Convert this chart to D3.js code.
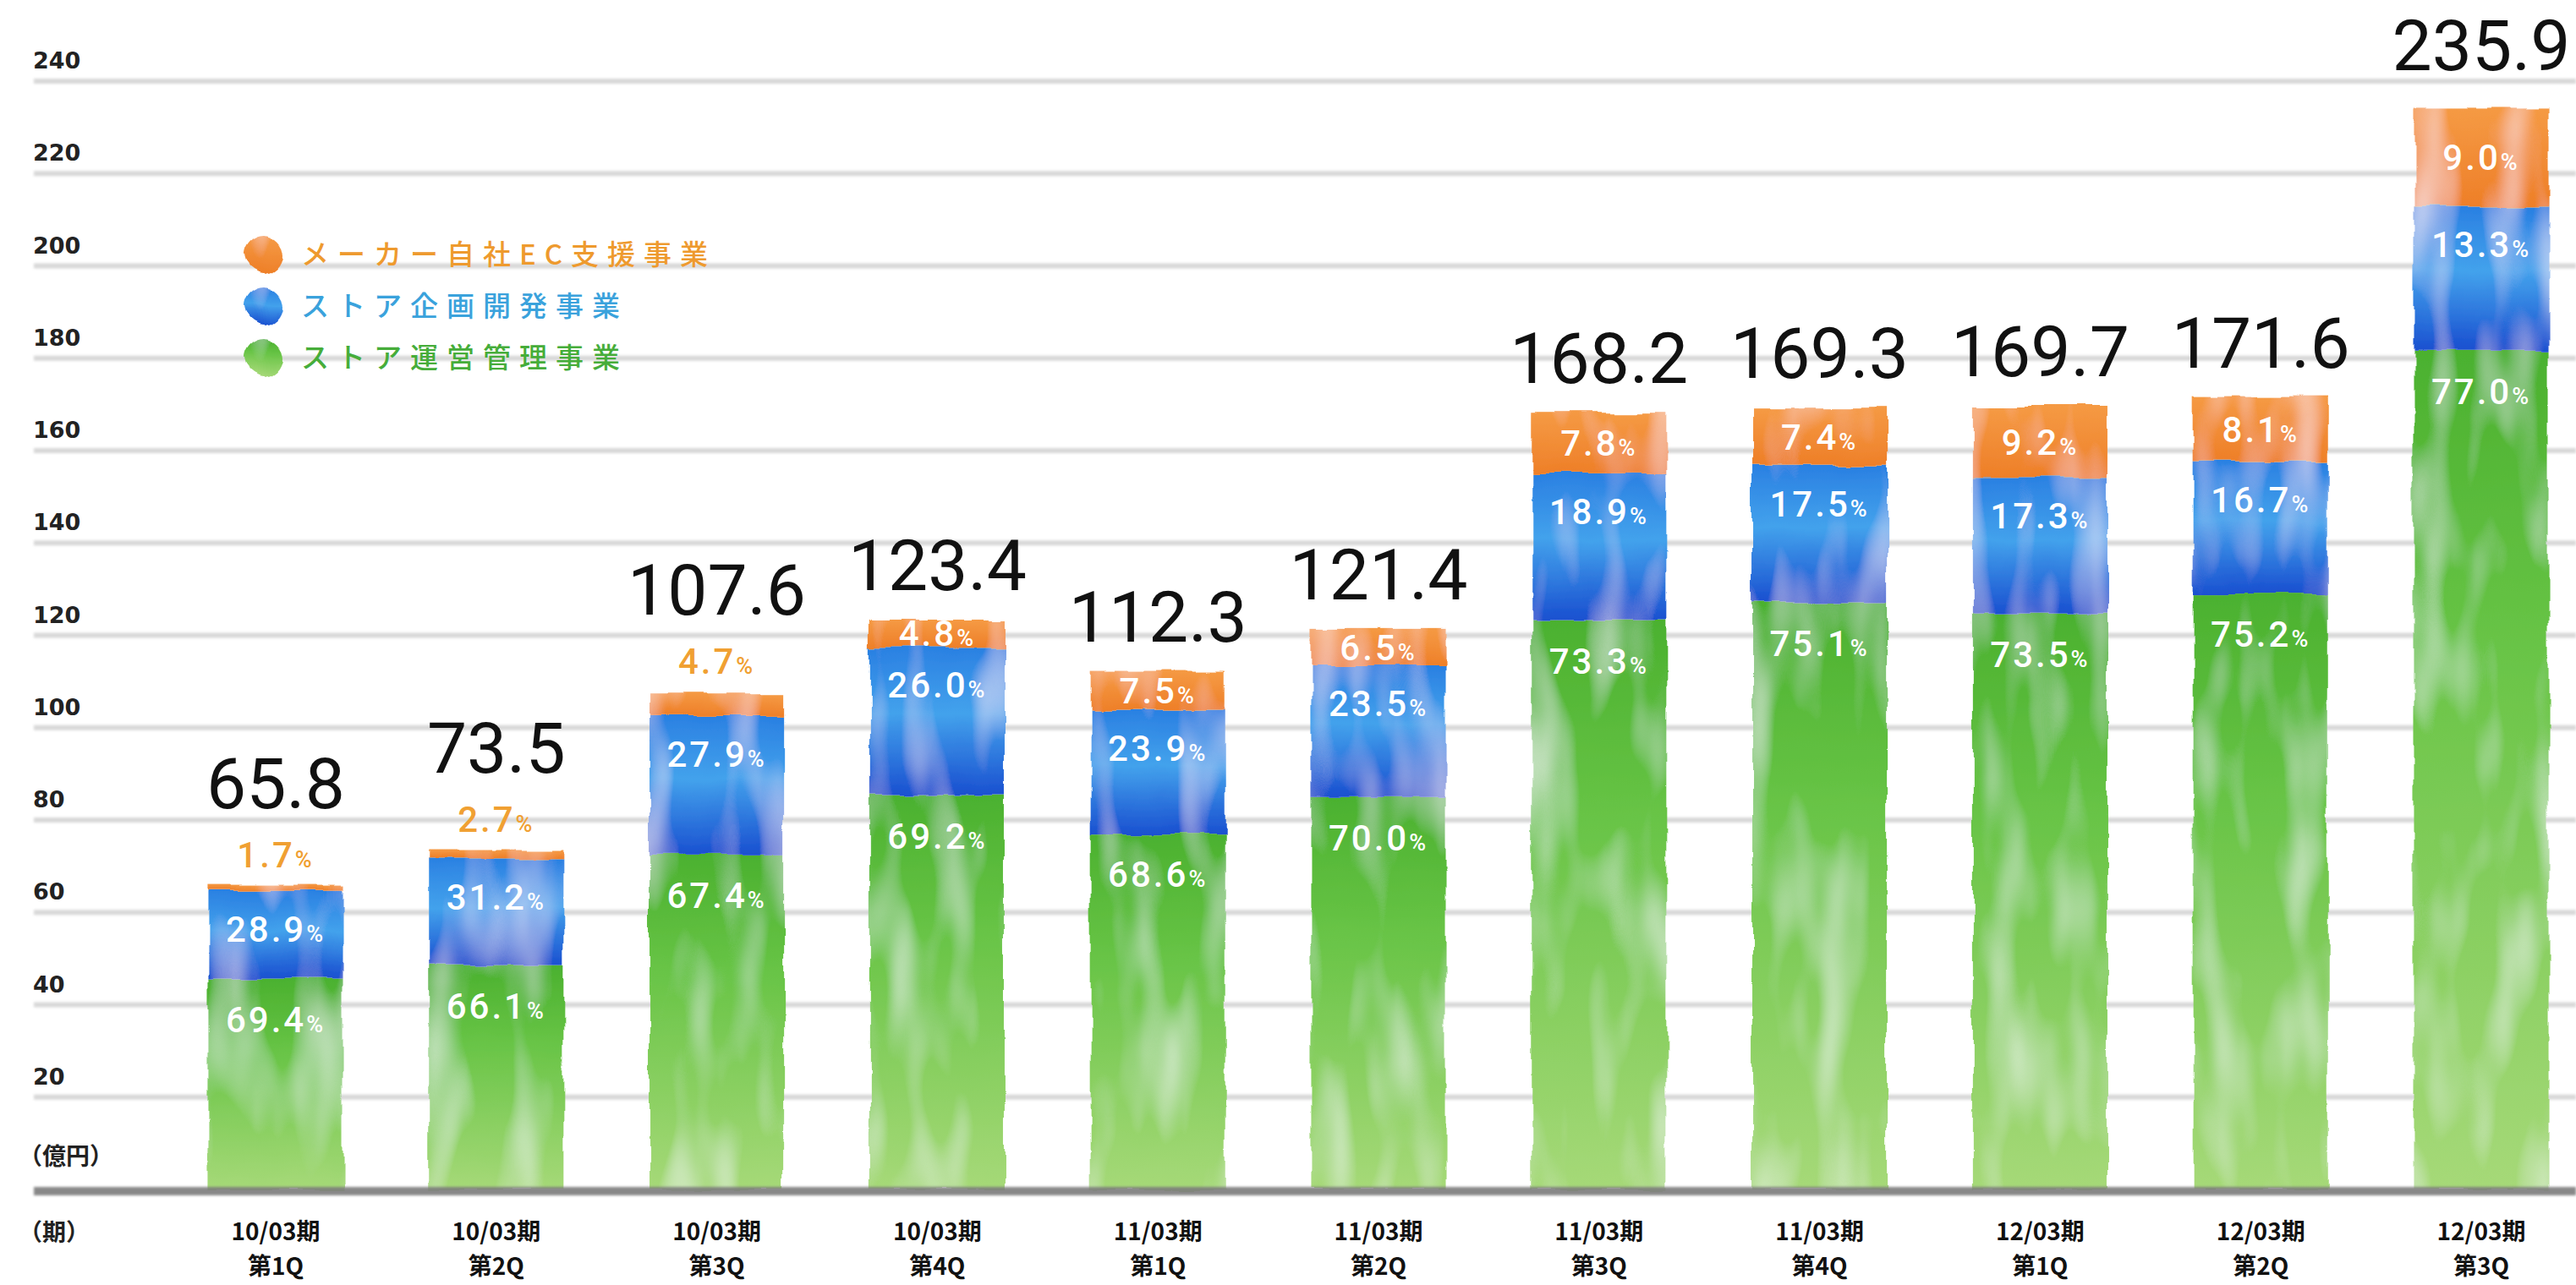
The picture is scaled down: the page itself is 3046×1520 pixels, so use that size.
<!DOCTYPE html>
<html>
<head>
<meta charset="utf-8">
<script src="https://cdn.jsdelivr.net/npm/d3@7"></script>
<style>
  body { margin: 0; background: #fff; }
  svg { display: block; }
</style>
</head>
<body>
<svg width="3046" height="1520"></svg>
<script>
// data
var periods = ["10/03期", "10/03期", "10/03期", "10/03期", "11/03期", "11/03期", "11/03期", "11/03期", "12/03期", "12/03期", "12/03期"];
var quarters = ["第1Q", "第2Q", "第3Q", "第4Q", "第1Q", "第2Q", "第3Q", "第4Q", "第1Q", "第2Q", "第3Q"];
var totals = [65.8, 73.5, 107.6, 123.4, 112.3, 121.4, 168.2, 169.3, 169.7, 171.6, 235.9];
var ecPct = [1.7, 2.7, 4.7, 4.8, 7.5, 6.5, 7.8, 7.4, 9.2, 8.1, 9.0];      // メーカー自社EC支援事業
var devPct = [28.9, 31.2, 27.9, 26.0, 23.9, 23.5, 18.9, 17.5, 17.3, 16.7, 13.3]; // ストア企画開発事業
var opsPct = [69.4, 66.1, 67.4, 69.2, 68.6, 70.0, 73.3, 75.1, 73.5, 75.2, 77.0]; // ストア運営管理事業
var yTicks = [20, 40, 60, 80, 100, 120, 140, 160, 180, 200, 220, 240];
var legendLabels = ["メーカー自社EC支援事業", "ストア企画開発事業", "ストア運営管理事業"];

(function () {
    var svg = d3.select("svg");

    var keys = ["ops", "dev", "ec"];
    var pcts = {ops: opsPct, dev: devPct, ec: ecPct};

    var rows = totals.map(function (t, i) {
        return {
            i: i,
            total: t,
            ops: t * opsPct[i] / 100,
            dev: t * devPct[i] / 100,
            ec: t * ecPct[i] / 100
        };
    });

    var x = d3.scaleBand()
        .domain(d3.range(totals.length))
        .range([195.6, 3064.4])
        .paddingInner(0.39)
        .paddingOuter(0.195);

    var y = d3.scaleLinear().domain([0, 240]).range([1407, 96]);

    ////////////////////////////////////////////////////////////////////////////
    // defs: gradients + watercolour-ish filter
    var defs = svg.append("defs");

    function grad(id, stops) {
        var g = defs.append("linearGradient").attr("id", id)
            .attr("x1", 0).attr("y1", 0).attr("x2", 0).attr("y2", 1);
        stops.forEach(function (s) {
            g.append("stop").attr("offset", s[0]).attr("stop-color", s[1]);
        });
    }
    grad("g-ec", [["0%", "#f59a44"], ["100%", "#ee7f28"]]);
    grad("g-dev", [["0%", "#2a80e2"], ["45%", "#43a2ec"], ["100%", "#1a50d0"]]);
    grad("g-ops", [["0%", "#4bb12f"], ["35%", "#68c446"], ["100%", "#a6d978"]]);

    var fill = {ec: "url(#g-ec)", dev: "url(#g-dev)", ops: "url(#g-ops)"};
    var textColor = {ec: "#ee9a2e", dev: "#3aa2dc", ops: "#46ad3a"};

    function watercolor(id, x0, y0, w, h) {
        var f = defs.append("filter").attr("id", id)
            .attr("filterUnits", "userSpaceOnUse")
            .attr("x", x0).attr("y", y0).attr("width", w).attr("height", h);
        f.append("feTurbulence").attr("type", "fractalNoise")
            .attr("baseFrequency", 0.018).attr("numOctaves", 3).attr("seed", 2).attr("result", "n");
        f.append("feDisplacementMap").attr("in", "SourceGraphic").attr("in2", "n")
            .attr("scale", 10).attr("xChannelSelector", "R").attr("yChannelSelector", "G").attr("result", "d");
        f.append("feTurbulence").attr("type", "fractalNoise")
            .attr("baseFrequency", "0.02 0.006").attr("numOctaves", 2).attr("seed", 9).attr("result", "n2");
        f.append("feColorMatrix").attr("in", "n2").attr("type", "matrix")
            .attr("values", "0 0 0 0 1  0 0 0 0 1  0 0 0 0 1  1.1 0 0 0 -0.52").attr("result", "hl");
        f.append("feComposite").attr("in", "hl").attr("in2", "d").attr("operator", "atop");
    }
    watercolor("wc", 0, 0, 3046, 1520);
    watercolor("wc-dot", -60, -60, 120, 120);

    var soft = defs.append("filter").attr("id", "soft")
        .attr("filterUnits", "userSpaceOnUse")
        .attr("x", 0).attr("y", 0).attr("width", 3046).attr("height", 1520);
    soft.append("feGaussianBlur").attr("stdDeviation", 1.8);

    ////////////////////////////////////////////////////////////////////////////
    // grid + y labels
    var grid = svg.append("g").attr("class", "grid");
    grid.append("g").attr("filter", "url(#soft)")
        .selectAll("line").data(yTicks).enter().append("line")
        .attr("x1", 40).attr("x2", 3046)
        .attr("y1", function (d) { return y(d); })
        .attr("y2", function (d) { return y(d); })
        .attr("stroke", "#d8d8d8").attr("stroke-width", 6);

    grid.selectAll("text").data(yTicks).enter().append("text")
        .attr("x", 39)
        .attr("y", function (d) { return y(d) - 15; })
        .style("font", "bold 27px 'DejaVu Sans'")
        .attr("fill", "#222")
        .text(function (d) { return d; });

    svg.append("text").attr("x", 22).attr("y", 1378)
        .style("font", "bold 28px 'Noto Sans CJK JP'").attr("fill", "#222")
        .text("（億円）");
    svg.append("text").attr("x", 22).attr("y", 1468)
        .style("font", "bold 28px 'Noto Sans CJK JP'").attr("fill", "#222")
        .text("（期）");

    ////////////////////////////////////////////////////////////////////////////
    // stacked bars
    var series = d3.stack().keys(keys)(rows);

    var bars = svg.append("g").attr("class", "bars").attr("filter", "url(#wc)");
    bars.selectAll("g").data(series).enter().append("g")
        .attr("fill", function (s) { return fill[s.key]; })
        .selectAll("rect").data(function (s) { return s; })
        .enter().append("rect")
        .attr("x", function (d, i) { return x(i); })
        .attr("width", x.bandwidth())
        .attr("y", function (d) { return y(d[1]); })
        .attr("height", function (d) { return y(d[0]) - y(d[1]); });

    // baseline
    svg.append("line")
        .attr("x1", 40).attr("x2", 3046)
        .attr("y1", y(0) + 2).attr("y2", y(0) + 2)
        .attr("stroke", "#7b7b7b").attr("stroke-width", 10)
        .attr("opacity", 0.9).attr("filter", "url(#soft)");

    ////////////////////////////////////////////////////////////////////////////
    // labels
    var labels = svg.append("g").attr("class", "labels");

    function pctText(sel, val, size) {
        sel.append("tspan").text(val.toFixed(1));
        sel.append("tspan").style("font-size", size + "px").text("%");
    }

    series.forEach(function (s) {
        s.forEach(function (d, i) {
            var top = y(d[1]), h = y(d[0]) - y(d[1]);
            var cx = x(i) + x.bandwidth() / 2;
            var cy, color = "#fff";
            if (s.key === "ec") {
                if (h >= 30) {
                    cy = top + h / 2;
                } else {
                    cy = top - 37;
                    color = "#f0a032";
                }
            } else if (s.key === "dev") {
                cy = top + 45;
            } else {
                cy = top + 48;
            }
            var t = labels.append("text")
                .attr("x", cx).attr("y", cy).attr("dy", "0.36em")
                .attr("text-anchor", "middle")
                .attr("fill", color)
                .style("font", "500 42px Roboto")
                .style("letter-spacing", "3px");
            pctText(t, pcts[s.key][i], 27);
        });
    });

    // totals
    labels.selectAll(".total").data(rows).enter().append("text")
        .attr("class", "total")
        .attr("x", function (d) { return x(d.i) + x.bandwidth() / 2; })
        .attr("y", function (d) {
            var top = y(d.total);
            var ecH = y(0) - y(d.ec);
            return ecH >= 30 ? top - 35 : top - 92;
        })
        .attr("text-anchor", "middle")
        .attr("fill", "#111")
        .style("font", "400 84px Roboto")
        .text(function (d) { return d.total.toFixed(1); });

    // x labels
    var xl = svg.append("g").attr("class", "xlabels");
    function xLabel(data, yPos) {
        xl.selectAll(null).data(data).enter().append("text")
            .attr("x", function (d, i) { return x(i) + x.bandwidth() / 2; })
            .attr("y", yPos)
            .attr("text-anchor", "middle")
            .style("font", "bold 28px 'Noto Sans CJK JP'")
            .attr("fill", "#111")
            .text(function (d) { return d; });
    }
    xLabel(periods, 1467);
    xLabel(quarters, 1508);

    ////////////////////////////////////////////////////////////////////////////
    // legend
    var legendKeys = ["ec", "dev", "ops"];
    var lg = svg.append("g").attr("class", "legend");
    var items = lg.selectAll("g").data(legendLabels).enter().append("g")
        .attr("transform", function (d, i) { return "translate(311," + (301 + i * 61) + ")"; });
    items.append("circle").attr("r", 23)
        .attr("fill", function (d, i) { return fill[legendKeys[i]]; })
        .attr("filter", "url(#wc-dot)");
    items.append("text")
        .attr("x", 45).attr("dy", "0.36em")
        .style("font", "500 33px 'Noto Sans CJK JP'")
        .style("letter-spacing", "10px")
        .attr("fill", function (d, i) { return textColor[legendKeys[i]]; })
        .text(function (d) { return d; });
})();
</script>
</body>
</html>
